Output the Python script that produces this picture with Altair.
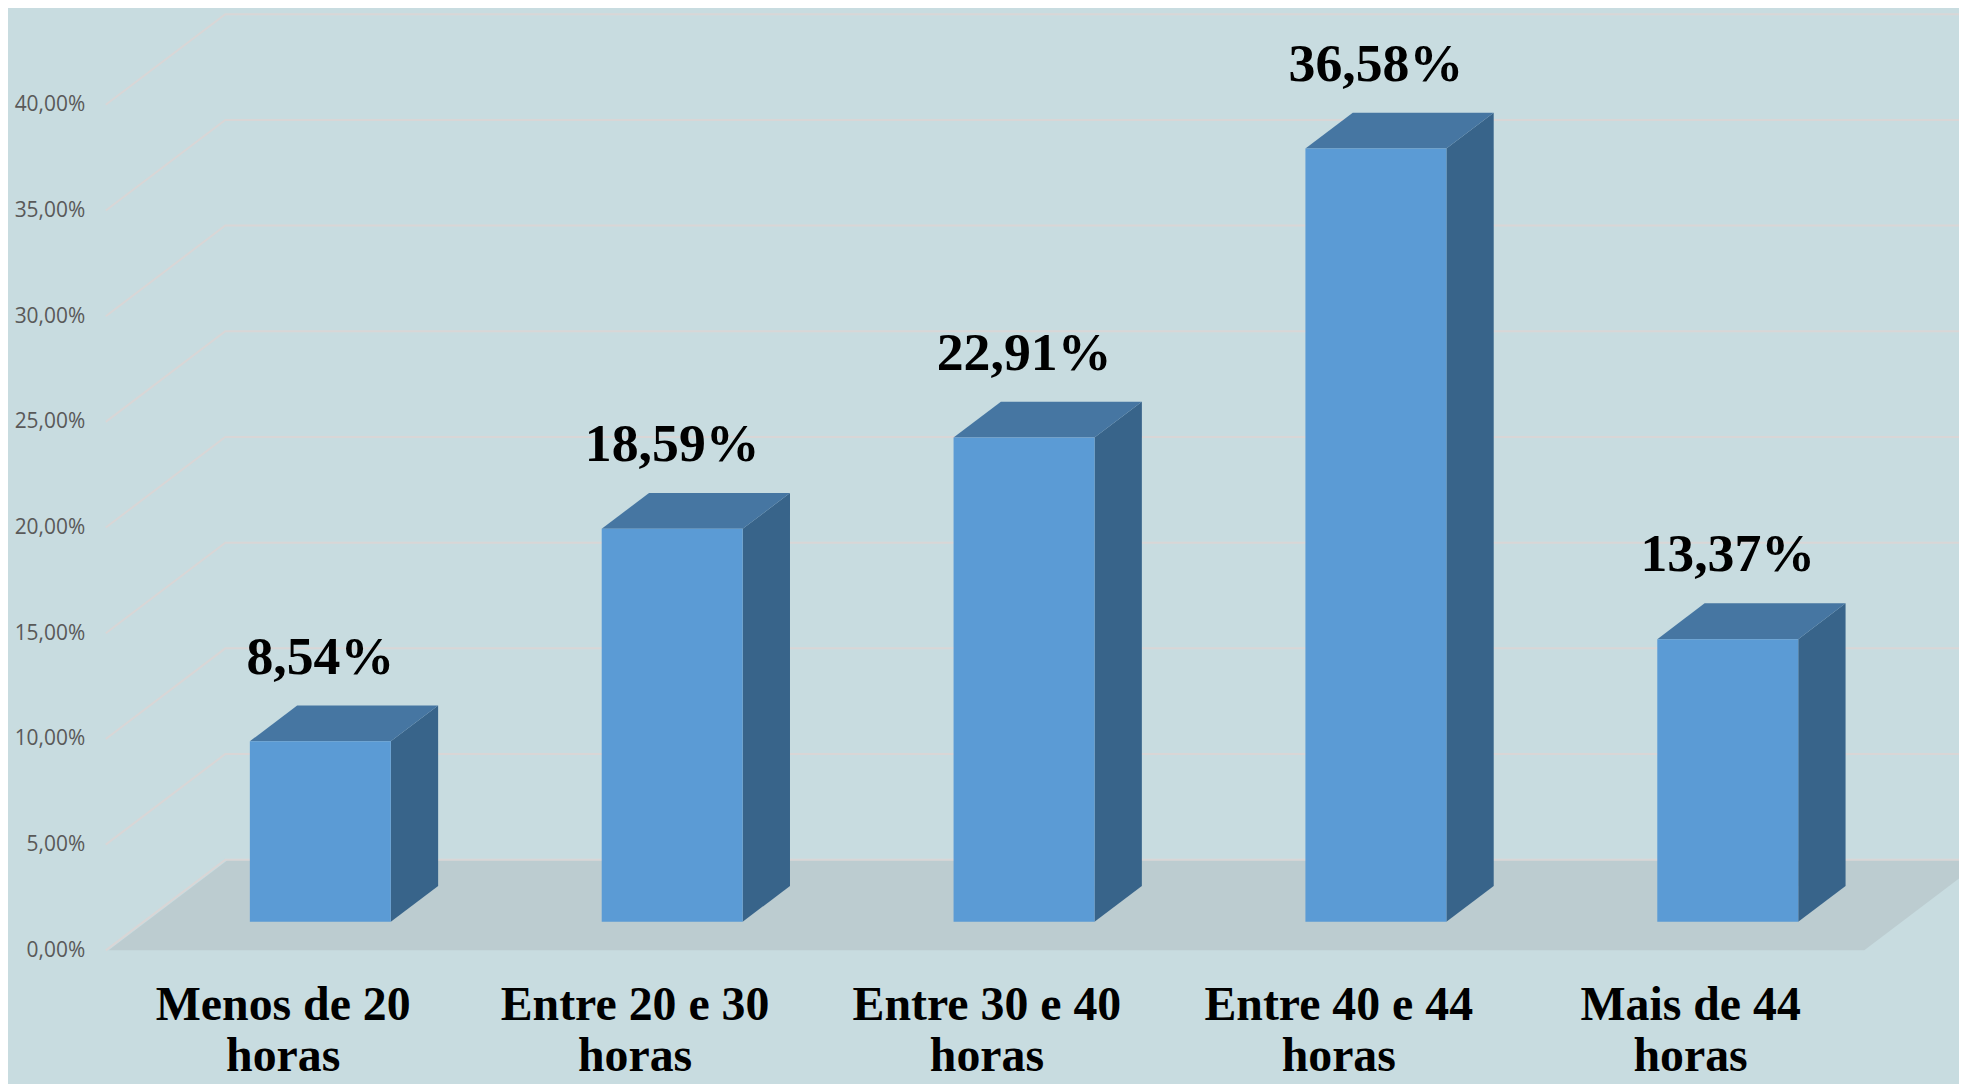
import json
import altair as alt
import pandas as pd

# ---------------- data ----------------
categories = ["Menos de 20 horas", "Entre 20 e 30 horas", "Entre 30 e 40 horas",
              "Entre 40 e 44 horas", "Mais de 44 horas"]
values = [8.54, 18.59, 22.91, 36.58, 13.37]
y_ticks = [0, 5, 10, 15, 20, 25, 30, 35, 40]

# ---------------- oblique 3-D geometry (in data units) ----------------
DX = 0.3397      # x shift for full depth (category units)
DY = 4.287       # y shift for full depth (percent units)
ZF, ZB = 0.315, 0.711   # bar front / back depth
HW = 0.2003      # half width of a bar
FLOOR_L, FLOOR_R = -0.4948, 4.495
X_DOMAIN = [-0.54006, 4.7642]
Y_DOMAIN = [0, 44.476]

BG = "#C8DCE0"
FLOOR = "#BCCCD0"
GRID = "#D9D6D6"
FRONT = "#5B9BD5"
TOP = "#4676A2"
SIDE = "#38648A"

front_rows, top_rows, side_rows, label_rows = [], [], [], []
for i, v in enumerate(values):
    front_rows.append({"bar": i, "x": i - HW + ZF * DX, "x2": i + HW + ZF * DX,
                       "y": ZF * DY, "y2": v + ZF * DY})
    top_rows.append({"bar": i, "y": v + ZF * DY, "x": i - HW + ZF * DX, "x2": i + HW + ZF * DX})
    top_rows.append({"bar": i, "y": v + ZB * DY, "x": i - HW + ZB * DX, "x2": i + HW + ZB * DX})
    side_rows.append({"bar": i, "x": i + HW + ZF * DX, "y": ZF * DY, "y2": v + ZF * DY})
    side_rows.append({"bar": i, "x": i + HW + ZB * DX, "y": ZB * DY, "y2": v + ZB * DY})
    label_rows.append({"bar": i, "x": i + ZF * DX, "y": v + ZF * DY,
                       "text": f"{v:.2f}".replace(".", ",") + "%"})

floor_df = pd.DataFrame([
    {"k": 0, "y": 0.0, "x": FLOOR_L, "x2": FLOOR_R},
    {"k": 0, "y": DY, "x": FLOOR_L + DX, "x2": FLOOR_R + DX},
])
grid_rows = []
for t in y_ticks:
    grid_rows.append({"tick": t, "seq": 0, "x": FLOOR_L - 0.008, "y": t})
    grid_rows.append({"tick": t, "seq": 1, "x": FLOOR_L - 0.008 + DX, "y": t + DY})
    grid_rows.append({"tick": t, "seq": 2, "x": 5.2, "y": t + DY})

front_df = pd.DataFrame(front_rows)
top_df = pd.DataFrame(top_rows)
side_df = pd.DataFrame(side_rows)
label_df = pd.DataFrame(label_rows)
grid_df = pd.DataFrame(grid_rows)

# ---------------- scales & axes ----------------
cat_lines = [c.rsplit(" ", 1) for c in categories]
x_axis = alt.Axis(values=list(range(len(categories))),
                  labelExpr=json.dumps(cat_lines) + "[datum.value]",
                  title=None, ticks=False, tickSize=0, domain=False, grid=False,
                  labelFont="Liberation Serif", labelFontWeight="bold",
                  labelFontSize=48, labelColor="#000000", labelPadding=69,
                  labelBaseline="alphabetic", labelLineHeight=52, labelLimit=600,
                  labelOverlap=False, labelFlush=False, labelAlign="center")
y_axis = alt.Axis(values=y_ticks,
                  labelExpr="replace(format(datum.value, '.2f'), '.', ',') + '%'",
                  title=None, ticks=False, tickSize=0, domain=False, grid=False,
                  labelFont="Open Sans", labelFontSize=21, labelColor="#595959",
                  labelPadding=8)
xs = alt.Scale(domain=X_DOMAIN, nice=False, zero=False)
ys = alt.Scale(domain=Y_DOMAIN, nice=False, zero=False)
X = alt.X("x:Q", scale=xs, axis=x_axis)
Y = alt.Y("y:Q", scale=ys, axis=y_axis)

floor = alt.Chart(floor_df).mark_area(orient="horizontal", color=FLOOR).encode(
    y=Y, x=X, x2=alt.X2("x2"), detail="k:N")

grid = alt.Chart(grid_df).mark_line(color=GRID, strokeWidth=2).encode(
    x=X, y=Y, detail="tick:N", order="seq:Q")

side = alt.Chart(side_df).mark_area(orient="vertical", color=SIDE).encode(
    x=X, y=Y, y2=alt.Y2("y2"), detail="bar:N")

top = alt.Chart(top_df).mark_area(orient="horizontal", color=TOP).encode(
    y=Y, x=X, x2=alt.X2("x2"), detail="bar:N")

front = alt.Chart(front_df).mark_rect(color=FRONT).encode(
    x=X, x2=alt.X2("x2"), y=Y, y2=alt.Y2("y2"))

labels = alt.Chart(label_df).mark_text(
    font="Liberation Serif", fontWeight="bold", fontSize=54, color="#000000",
    baseline="alphabetic", align="center", dy=-68).encode(
    x=X, y=Y, text="text:N")

chart = alt.layer(floor, grid, side, top, front, labels).properties(
    width=1874, height=944,
    padding={"left": 85, "top": 0, "right": 0, "bottom": 132},
    autosize=alt.AutoSizeParams(type="none"),
).configure(background=BG).configure_view(strokeWidth=0)

chart.save("out.html", embed_options={"renderer": "svg", "actions": False})
